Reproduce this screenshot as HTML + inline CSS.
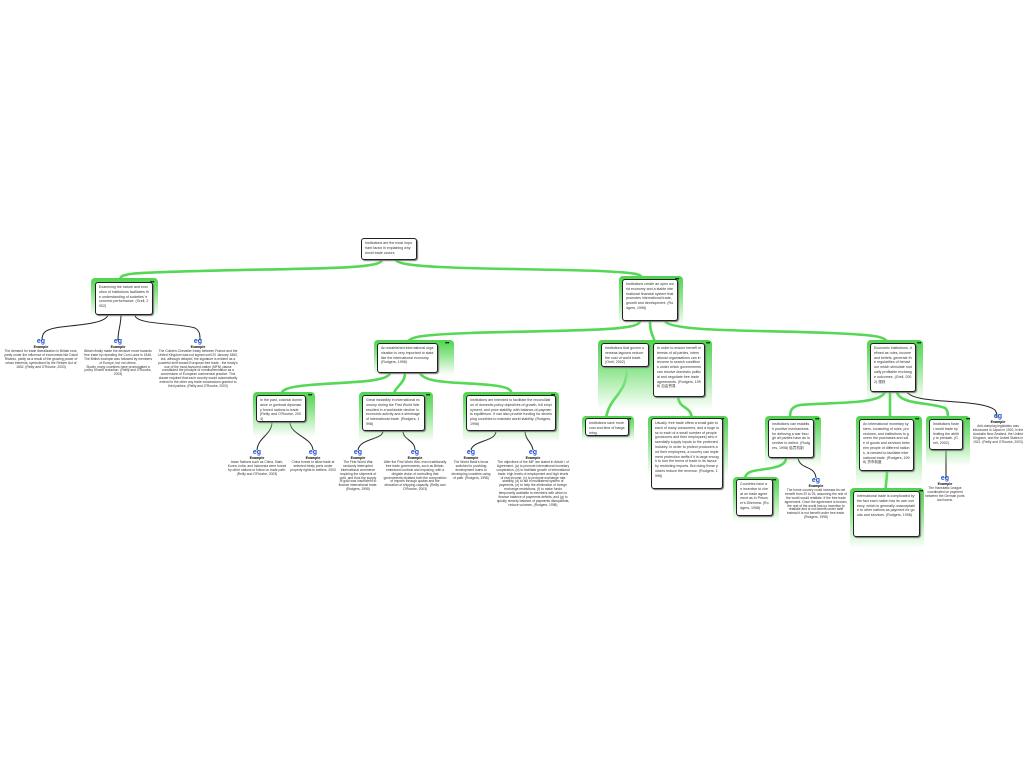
<!DOCTYPE html>
<html><head><meta charset="utf-8"><style>
body{margin:0;width:1024px;height:768px;background:#fff;position:relative;overflow:hidden;font-family:"Liberation Sans",sans-serif}
.bd{position:absolute;border-radius:4px 4px 0 0;background:linear-gradient(#4ed44e 0%,#8be58b 40%,rgba(170,235,170,0) 100%)}
.bx{position:absolute;background:#fff;border:1px solid #222;border-radius:3px;box-shadow:1px 1px 1px #777;font-size:3.6px;line-height:4.8px;color:#333;padding:2px 3px;box-sizing:border-box;overflow:hidden;word-break:break-all}
.rr{position:absolute;font-size:4px;font-weight:bold;color:#000}
.ex{position:absolute;text-align:center;font-size:3.3px;line-height:3.9px;color:#333}
.ex .i{color:#1a4fd0;font-size:7px;line-height:8px;font-weight:bold}
.ex b{display:block;color:#000;font-size:3.6px}
svg{position:absolute;left:0;top:0}
</style></head><body>
<svg width="1024" height="768">
<g fill="none" stroke="#55d855" stroke-width="2.6">
<path d="M382 260 C380 270 300 268 200 271 C130 273 120 273 120 280"/>
<path d="M396 260 C400 270 520 268 600 271 C640 273 640 274 643 279"/>
<path d="M640 321 C640 332 560 330 470 333 C415 335 410 337 406 344"/>
<path d="M650 321 C650 335 654 336 655 343"/>
<path d="M665 321 C670 332 760 330 830 333 C880 335 885 337 888 343"/>
<path d="M390 373 C388 383 340 382 310 385 C285 387 282 390 280 396"/>
<path d="M405 373 C405 384 395 386 393 396"/>
<path d="M420 373 C425 384 460 382 490 385 C510 387 512 390 512 396"/>
<path d="M627 367 C627 395 610 395 606 418"/>
<path d="M678 397 C680 410 690 405 692 418"/>
<path d="M885 392 C880 405 830 402 800 405 C790 407 790 412 790 419"/>
<path d="M890 392 C890 405 890 410 890 419"/>
<path d="M897 392 C900 405 930 402 945 408 C948 410 948 415 948 419"/>
<path d="M786 458 C786 470 760 468 750 472 C746 474 745 477 745 479"/>
<path d="M887 471 C887 482 885 485 886 491"/>
</g>
<g fill="none" stroke="#222" stroke-width="1">
<path d="M108 315 C105 325 70 325 55 328 C45 330 42 333 42 340"/>
<path d="M121 315 C121 325 118 330 118 340"/>
<path d="M135 315 C135 325 180 323 195 328 C200 331 200 335 200 340"/>
<path d="M272 422 C272 435 258 437 257 450"/>
<path d="M290 422 C290 435 312 437 313 450"/>
<path d="M383 431 C383 440 360 438 358 450"/>
<path d="M403 431 C403 440 415 440 415 450"/>
<path d="M496 431 C496 442 473 440 471 450"/>
<path d="M525 431 C525 440 532 442 533 450"/>
<path d="M798 458 C800 470 815 465 816 478"/>
<path d="M907 392 C915 405 980 398 995 410 C997 413 997 415 997 418"/>
</g>
<path d="M946 450 L946 478" stroke="#666" stroke-width="1.5"/>
</svg>

<div class="bx" style="left:361px;top:238px;width:56px;height:22px">Institutions are the most important factor in explaining why world trade occurs.</div>

<div class="bd" style="left:91px;top:278px;width:67px;height:38px"></div><span class="rr" style="left:150px;top:280px">❝❞</span>
<div class="bx" style="left:95px;top:282px;width:58px;height:33px">Examining the nature and evolution of institutions facilitates the understanding of societies' economic performance. (Grell, 2002)</div>

<div class="bd" style="left:619px;top:276px;width:64px;height:50px"></div><span class="rr" style="left:675px;top:277px">❝❞</span>
<div class="bx" style="left:622px;top:279px;width:56px;height:42px">Institutions create an open world economy and a stable international financial system that promotes international trade, growth and development. (Rodgers, 1998)</div>

<div class="bd" style="left:374px;top:340px;width:80px;height:35px"></div><span class="rr" style="left:445px;top:341px">❝❞</span>
<div class="bx" style="left:377px;top:343px;width:61px;height:30px">An established international organisation is very important to stabilise the international economy. (Rodgers, 1998)</div>

<div class="bd" style="left:253px;top:392px;width:62px;height:45px"></div><span class="rr" style="left:308px;top:393px">❝❞</span>
<div class="bx" style="left:256px;top:395px;width:50px;height:27px">In the past, colonial dominance or gunboat diplomacy forced nations to trade. (Reilly and O'Rourke, 2003)</div>

<div class="bd" style="left:359px;top:392px;width:74px;height:50px"></div><span class="rr" style="left:426px;top:393px">❝❞</span>
<div class="bx" style="left:362px;top:395px;width:63px;height:36px">Great instability in international economy during the First World War resulted in a worldwide decline in economic activity and a shrinkage of international trade. (Rodgers, 1998)</div>

<div class="bd" style="left:463px;top:392px;width:96px;height:50px"></div><span class="rr" style="left:551px;top:393px">❝❞</span>
<div class="bx" style="left:466px;top:395px;width:90px;height:36px">Institutions are intended to facilitate the reconciliation of domestic policy objectives of growth, full employment, and price stability, with balance-of-payments equilibrium. It can also provide funding for developing countries to maintain world stability. (Rodgers, 1998)</div>

<div class="bd" style="left:598px;top:340px;width:114px;height:70px"></div><span class="rr" style="left:706px;top:341px">❝❞</span>
<div class="bx" style="left:601px;top:343px;width:48px;height:24px">Institutions that govern overseas lagoons reduce the cost of world trade. (Grell, 2002)</div>
<div class="bx" style="left:653px;top:343px;width:52px;height:54px">In order to ensure benefit interests of all parties, international organisations can intervene to search conditions under which governments can resolve domestic political and negotiate free trade agreements. (Rodgers, 1998) 自由贸易</div>

<div class="bd" style="left:582px;top:416px;width:52px;height:25px"></div><span class="rr" style="left:627px;top:417px">❝❞</span>
<div class="bx" style="left:585px;top:418px;width:44px;height:18px">Institutions save more cost and time of bargaining.</div>

<div class="bd" style="left:648px;top:416px;width:80px;height:60px"></div><span class="rr" style="left:720px;top:417px">❝❞</span>
<div class="bx" style="left:651px;top:418px;width:72px;height:71px">Usually, free trade offers a small gain to each of many consumers, and a huge loss to each of a small number of people (producers and their employees) who essentially supply inputs to the protected industry. In order to protect producers and their employees, a country can implement protection tariffs if it is large enough to turn the terms of trade in its favour by restricting imports. But doing these policies reduce the revenue. (Rodgers, 1998)</div>

<div class="bd" style="left:867px;top:340px;width:56px;height:60px"></div><span class="rr" style="left:917px;top:341px">❝❞</span>
<div class="bx" style="left:870px;top:343px;width:46px;height:49px">Economic institutions, defined as rules, income and beliefs, generate the regularities of behaviour which stimulate mutually profitable exchange outcomes. (Grell, 2002) 规则</div>

<div class="bd" style="left:765px;top:416px;width:56px;height:50px"></div><span class="rr" style="left:815px;top:417px">❝❞</span>
<div class="bx" style="left:768px;top:419px;width:46px;height:39px">Institutions can establish punitive mechanisms for defusing a war though all parties have an incentive to defect. (Rodgers, 1998) 惩罚机制</div>

<div class="bd" style="left:733px;top:477px;width:46px;height:45px"></div><span class="rr" style="left:772px;top:478px">❝❞</span>
<div class="bx" style="left:736px;top:479px;width:37px;height:37px">Countries have an incentive to cheat on trade agreement as in Prisoner's Dilemma. (Rodgers, 1998)</div>

<div class="bd" style="left:856px;top:416px;width:66px;height:70px"></div><span class="rr" style="left:915px;top:417px">❝❞</span>
<div class="bx" style="left:859px;top:419px;width:55px;height:52px">An international monetary system, consisting of rules, procedures, and institutions to govern the purchases and sale of goods and services between people of different nations, is needed to facilitate international trade. (Rodgers, 1998) 货币制度</div>

<div class="bd" style="left:850px;top:488px;width:74px;height:60px"></div><span class="rr" style="left:919px;top:489px">❝❞</span>
<div class="bx" style="left:853px;top:491px;width:67px;height:46px">International trade is complicated by the fact each nation has its own currency, which is generally unacceptable to other nations as payment for goods and services. (Rodgers, 1998)</div>

<div class="bd" style="left:926px;top:416px;width:44px;height:50px"></div><span class="rr" style="left:966px;top:417px">❝❞</span>
<div class="bx" style="left:929px;top:419px;width:34px;height:31px">Institutions foster world trade by limiting the ability to predate. (Grell, 2002)</div>

<div class="ex" style="left:2px;top:338px;width:78px"><div class="i">eg</div><b>Example</b>The demand for trade liberalisation in Britain rose, partly under the influence of economists like David Ricardo, partly as a result of the growing power of urban interests, symbolised by the Reform Act of 1832. (Reilly and O'Rourke, 2003)</div>
<div class="ex" style="left:84px;top:338px;width:68px"><div class="i">eg</div><b>Example</b>Britain finally made the decisive move towards free trade by repealing the Corn Laws in 1846. The British example was followed by members of Europe, but not others.<br>Slowly, many countries have promulgated a policy of tariff reduction. (Reilly and O'Rourke, 2003)</div>
<div class="ex" style="left:157px;top:338px;width:82px"><div class="i">eg</div><b>Example</b>The Cobden-Chevalier treaty between France and the United Kingdom was not signed until 20 January 1860, but, although delayed, the signature is evident as a powerful shift toward European free trade - the treaty's use of the most-favoured-nation (MFN) clause constituted the principle of nondiscrimination as a cornerstone of European commercial practice. This clause required that each country would automatically extend to the other any trade concessions granted to third parties. (Reilly and O'Rourke, 2003)</div>

<div class="ex" style="left:226px;top:449px;width:62px"><div class="i">eg</div><b>Example</b>Asian Nations such as China, Siam, Korea, India, and Indonesia were forced by other nations to follow on trade path. (Reilly and O'Rourke, 2003)</div>
<div class="ex" style="left:290px;top:449px;width:46px"><div class="i">eg</div><b>Example</b>China forced to allow trade at selected treaty ports under property rights to settlers. 2003</div>
<div class="ex" style="left:338px;top:449px;width:40px"><div class="i">eg</div><b>Example</b>The First World War seriously interrupted international commerce requiring the shipment of gold, and thus the supply of gold was insufficient to finance international trade. (Rodgers, 1998)</div>
<div class="ex" style="left:383px;top:449px;width:64px"><div class="i">eg</div><b>Example</b>After the First World War, even traditionally free trade governments, such as Britain, embraced controls and imposing, with a dirigiste vision of controlling that governments dictated both the composition of imports through quotas and the allocation of shipping capacity. (Reilly and O'Rourke, 2003)</div>
<div class="ex" style="left:451px;top:449px;width:40px"><div class="i">eg</div><b>Example</b>The World Bank's focus switched to providing development loans to developing countries using of path. (Rodgers, 1998)</div>
<div class="ex" style="left:496px;top:449px;width:74px"><div class="i">eg</div><b>Example</b>The objectives of the IMF are stated in Article I of Agreement, (a) to promote international monetary cooperation, (b) to facilitate growth of international trade, high levels of employment and high levels of real income, (c) to promote exchange rate stability, (d) to aid in multilateral system of payments, (e) to help the elimination of foreign exchange restrictions, (f) to make funds temporarily available to members with which to finance balance of payments deficits, and (g) to quickly remedy balance of payments disequilibria, reduce volumes. (Rodgers, 1998)</div>

<div class="ex" style="left:784px;top:477px;width:64px"><div class="i">eg</div><b>Example</b>The home country could increase its net benefit from 20 to 25, assuming the rest of the world would retaliate. If the free trade agreement. Once the agreement is broken, the rest of the world has no incentive to retaliate and is not benefit under tariff instead it is not benefit under free trade. (Rodgers, 1998)</div>
<div class="ex" style="left:925px;top:475px;width:40px"><div class="i">eg</div><b>Example</b>The Hanseatic League coordinated on payment between the German ports and towns.</div>
<div class="ex" style="left:970px;top:413px;width:56px"><div class="i">eg</div><b>Example</b>Anti-dumping legislation was introduced in Japan in 1920, in the Australia New Zealand, the United Kingdom, and the United States in 1921. (Reilly and O'Rourke, 2003)</div>
</body></html>
